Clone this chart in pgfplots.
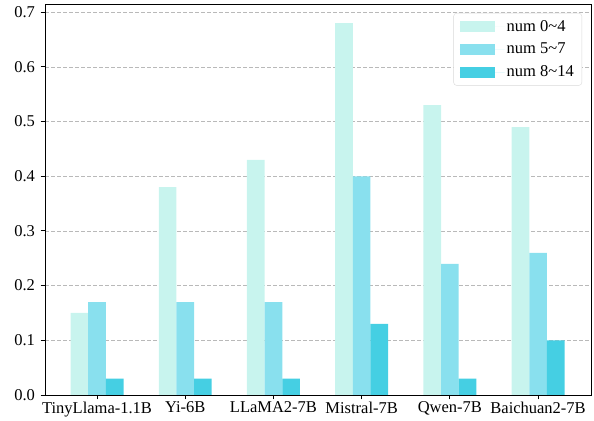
\documentclass[border=0pt]{standalone}
\usepackage{fontspec}
\setmainfont{Liberation Serif}
\usepackage{pgfplots}
\pgfplotsset{compat=1.18}

\definecolor{cA}{HTML}{C8F4EE}
\definecolor{cB}{HTML}{89E0EE}
\definecolor{cC}{HTML}{45CFE3}

\begin{document}
\begin{tikzpicture}
\begin{axis}[
    scale only axis,
    width=546pt, height=391pt,
    xmin=-0.59, xmax=5.6,
    ymin=0, ymax=0.715,
    xtick={0,1,2,3,4,5},
    xticklabels={TinyLlama-1.1B,Yi-6B,LLaMA2-7B,Mistral-7B,Qwen-7B,Baichuan2-7B},
    ytick={0,0.1,0.2,0.3,0.4,0.5,0.6,0.7},
    yticklabel style={xshift=-2pt},
    y tick label style={/pgf/number format/.cd,fixed,fixed zerofill,precision=1},
    /pgf/number format/assume math mode=true,
    tick align=outside,
    tick pos=left,
    major tick length=4.5pt,
    ymajorgrids,
    grid style={dash pattern=on 4pt off 2pt, gray!55, line width=0.7pt},
    axis line style={line width=0.9pt},
    tick style={line width=0.9pt, black},
    ticklabel style={font=\fontsize{16.5}{19}\selectfont},
    xticklabel style={yshift=1pt},
    bar width=0.2,
    legend style={at={(1,1)}, anchor=north east, xshift=-9pt, yshift=-9pt,
        draw=gray!30, rounded corners=3pt,
        font=\fontsize{16.5}{19}\selectfont,
        row sep=6.5pt, inner xsep=6pt, inner ysep=5pt},
    legend cell align=left,
    legend image code/.code={\fill[#1, sharp corners] (0pt,-5.5pt) rectangle (35pt,5.5pt);
        \path (0pt,0pt) -- (45pt,0pt);},
]
\addplot[ybar, bar shift=-0.2, fill=cA, draw=none] coordinates {
    (0,0.15) (1,0.38) (2,0.43) (3,0.68) (4,0.53) (5,0.49)};
\addlegendentry{num 0\textasciitilde4}
\addplot[ybar, bar shift=0, fill=cB, draw=none] coordinates {
    (0,0.17) (1,0.17) (2,0.17) (3,0.40) (4,0.24) (5,0.26)};
\addlegendentry{num 5\textasciitilde7}
\addplot[ybar, bar shift=0.2, fill=cC, draw=none] coordinates {
    (0,0.03) (1,0.03) (2,0.03) (3,0.13) (4,0.03) (5,0.10)};
\addlegendentry{num 8\textasciitilde14}
\end{axis}
\useasboundingbox (current axis.south west) ++(-45pt,-25pt) rectangle ([shift={(3pt,4pt)}]current axis.north east);
\end{tikzpicture}
\end{document}
